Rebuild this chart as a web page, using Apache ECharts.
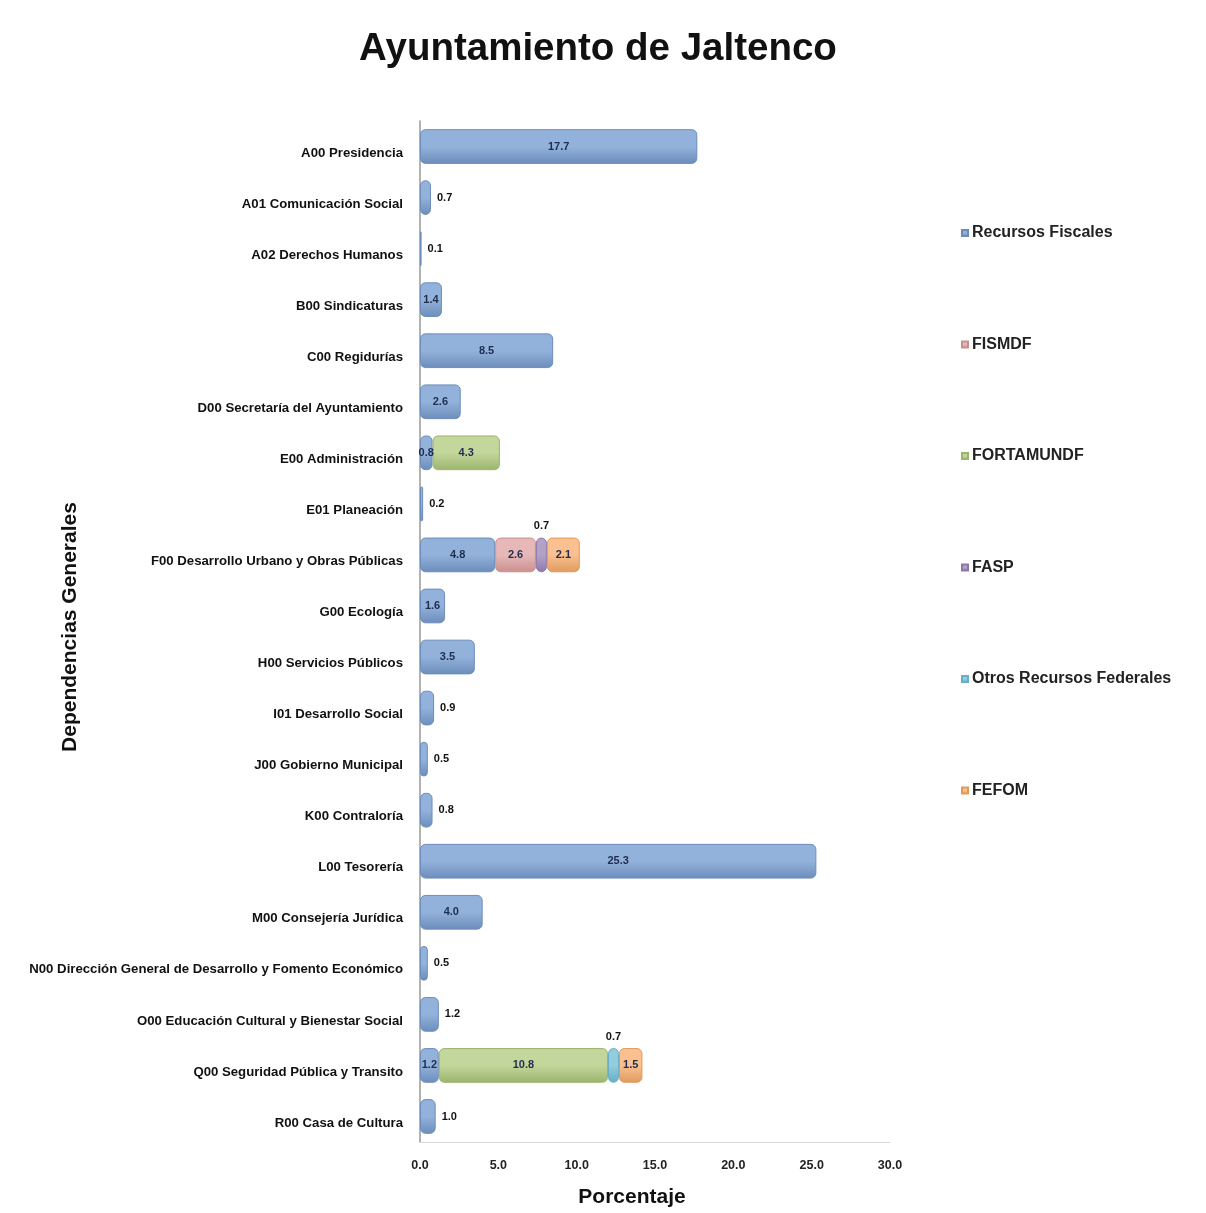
<!DOCTYPE html>
<html>
<head>
<meta charset="utf-8">
<script src="https://cdn.jsdelivr.net/npm/echarts@6/dist/echarts.min.js"></script>
<style>html,body{margin:0;padding:0;background:#fff;}#c{width:1206px;height:1213px;}</style>
</head>
<body>
<div id="c"></div>
<script>
const categories = [
  "A00 Presidencia",
  "A01 Comunicación Social",
  "A02 Derechos Humanos",
  "B00 Sindicaturas",
  "C00 Regidurías",
  "D00 Secretaría del Ayuntamiento",
  "E00 Administración",
  "E01 Planeación",
  "F00 Desarrollo Urbano y Obras Públicas",
  "G00 Ecología",
  "H00 Servicios Públicos",
  "I01 Desarrollo Social",
  "J00 Gobierno Municipal",
  "K00 Contraloría",
  "L00 Tesorería",
  "M00 Consejería Jurídica",
  "N00 Dirección General de Desarrollo y Fomento Económico",
  "O00 Educación Cultural y Bienestar Social",
  "Q00 Seguridad Pública y Transito",
  "R00 Casa de Cultura"
];
const seriesNames = ["Recursos Fiscales", "FISMDF", "FORTAMUNDF", "FASP", "Otros Recursos Federales", "FEFOM"];
const recursosFiscales = [17.7, 0.7, 0.1, 1.4, 8.5, 2.6, 0.8, 0.2, 4.8, 1.6, 3.5, 0.9, 0.5, 0.8, 25.3, 4.0, 0.5, 1.2, 1.2, 1.0];
const fismdf     = [null, null, null, null, null, null, null, null, 2.6, null, null, null, null, null, null, null, null, null, null, null];
const fortamundf = [null, null, null, null, null, null, 4.3, null, null, null, null, null, null, null, null, null, null, null, 10.8, null];
const fasp       = [null, null, null, null, null, null, null, null, 0.7, null, null, null, null, null, null, null, null, null, null, null];
const otrosRF    = [null, null, null, null, null, null, null, null, null, null, null, null, null, null, null, null, null, null, 0.7, null];
const fefom      = [null, null, null, null, null, null, null, null, 2.1, null, null, null, null, null, null, null, null, null, 1.5, null];
const xTicks = [0, 5, 10, 15, 20, 25, 30];

const allSeries = [recursosFiscales, fismdf, fortamundf, fasp, otrosRF, fefom];
const colors = ["#92B2DB", "#E6B9B8", "#C3D69B", "#B3A2C7", "#93CDDD", "#FAC090"];
const borders = ["#6C8DBB", "#C98F8E", "#9CB46E", "#8C78A8", "#66AFC4", "#E09A5E"];

function rowCount(i) {
  return allSeries.filter(s => s[i] != null).length;
}

const series = allSeries.map((arr, si) => ({
  name: seriesNames[si],
  type: 'bar',
  stack: 'total',
  barWidth: '68%',
  itemStyle: {
    color: {
      type: 'linear', x: 0, y: 0, x2: 0, y2: 1,
      colorStops: [
        {offset: 0, color: colors[si]},
        {offset: 0.5, color: colors[si]},
        {offset: 1, color: borders[si]}
      ]
    },
    borderColor: borders[si],
    borderWidth: 1,
    borderRadius: 5
  },
  data: arr.map((v, i) => {
    if (v == null) return null;
    const item = {value: v};
    const n = rowCount(i);
    if (n === 1 && v <= 1.2) {
      item.label = {position: 'right', color: '#111', distance: 6};
    } else if (n > 1 && v < 1.0 && si > 0) {
      item.label = {position: 'top', color: '#111', distance: 6};
    }
    return item;
  }),
  label: {
    show: true,
    position: 'inside',
    formatter: p => Number(p.value).toFixed(1),
    fontFamily: 'Liberation Sans',
    fontWeight: 'bold',
    fontSize: 11,
    color: '#1F2D4E'
  }
}));

const chart = echarts.init(document.getElementById('c'), null, {renderer: 'canvas'});
chart.setOption({
  backgroundColor: '#ffffff',
  animation: false,
  title: {
    text: 'Ayuntamiento de Jaltenco',
    left: 593, top: 25, textAlign: 'center',
    textStyle: {fontFamily: 'Liberation Sans', fontWeight: 'bold', fontSize: 38.5, color: '#111'}
  },
  legend: {
    orient: 'vertical',
    left: 956, top: 220,
    itemWidth: 6, itemHeight: 6,
    itemGap: 95.5,
    icon: 'rect',
    data: seriesNames,
    textStyle: {fontFamily: 'Liberation Sans', fontWeight: 'bold', fontSize: 16, color: '#222', padding: [0, 0, 0, -1]}
  },
  graphic: [{
    type: 'text',
    x: 70, y: 627,
    rotation: Math.PI / 2,
    style: {
      text: 'Dependencias Generales',
      fontFamily: 'Liberation Sans', fontWeight: 'bold', fontSize: 21, fill: '#111',
      align: 'center', verticalAlign: 'middle'
    }
  }],
  grid: {left: 420, right: 316, top: 121, bottom: 68, containLabel: false},
  xAxis: {
    type: 'value',
    min: xTicks[0], max: xTicks[xTicks.length - 1], interval: xTicks[1] - xTicks[0],
    name: 'Porcentaje',
    nameLocation: 'middle',
    nameGap: 45,
    nameTextStyle: {fontFamily: 'Liberation Sans', fontWeight: 'bold', fontSize: 21, color: '#111', padding: [0, 46, 0, 0]},
    axisLine: {show: true, lineStyle: {color: '#d8d8d8'}},
    axisTick: {show: false},
    splitLine: {show: false},
    axisLabel: {
      formatter: v => v.toFixed(1),
      fontFamily: 'Liberation Sans', fontWeight: 'bold', fontSize: 12.5, color: '#222', margin: 17
    }
  },
  yAxis: {
    type: 'category',
    inverse: true,
    data: categories,
    axisLine: {show: true, lineStyle: {color: '#999', width: 1.5}},
    axisTick: {show: false},
    axisLabel: {fontFamily: 'Liberation Sans', fontWeight: 'bold', fontSize: 13.2, color: '#111', margin: 17, verticalAlign: 'top'}
  },
  series: series
});
</script>
</body>
</html>
